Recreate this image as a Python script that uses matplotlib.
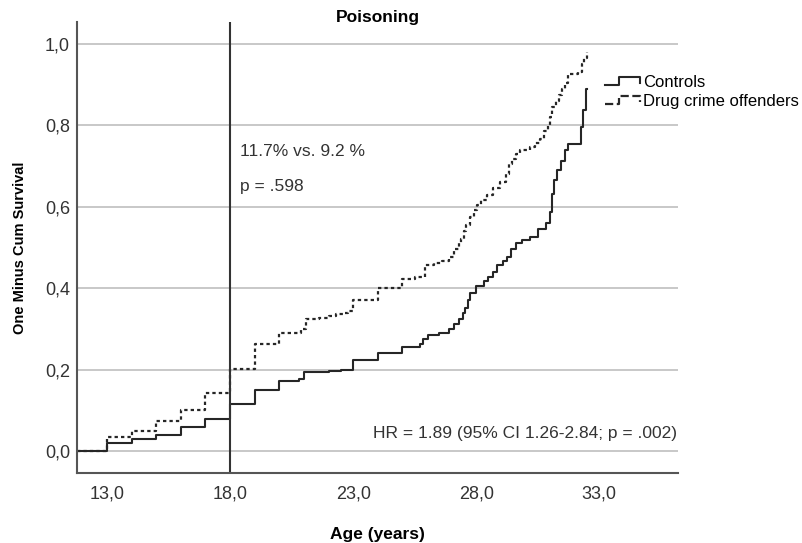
import matplotlib
matplotlib.use("Agg")
import matplotlib.pyplot as plt
from matplotlib.lines import Line2D
from matplotlib.legend_handler import HandlerBase

plt.rcParams['font.family'] = ['Liberation Sans', 'DejaVu Sans']

# Datos (edad, 1 - supervivencia acumulada)
edad_controles = [11.8, 13.0, 14.0, 15.0, 16.0, 17.0, 18.0, 19.0, 20.0, 20.8,
                  21.0, 22.0, 22.5, 23.0, 24.0, 25.0, 25.7, 25.85, 26.05, 26.5,
                  26.9, 27.1, 27.3, 27.45, 27.55, 27.65, 27.75, 28.0, 28.3, 28.5,
                  28.7, 28.85, 29.1, 29.25, 29.4, 29.6, 29.85, 30.2, 30.5, 30.85,
                  31.0, 31.08, 31.15, 31.3, 31.45, 31.6, 31.75, 32.25, 32.35, 32.45,
                  32.5]
iuv_controles = [0.0, 0.019, 0.029, 0.039, 0.058, 0.079, 0.115, 0.151, 0.172, 0.178,
                 0.193, 0.196, 0.200, 0.223, 0.241, 0.256, 0.262, 0.275, 0.285, 0.290,
                 0.300, 0.313, 0.325, 0.338, 0.352, 0.370, 0.387, 0.405, 0.418, 0.428,
                 0.440, 0.456, 0.468, 0.477, 0.497, 0.512, 0.518, 0.526, 0.546, 0.559,
                 0.587, 0.632, 0.665, 0.690, 0.712, 0.739, 0.755, 0.796, 0.837, 0.890,
                 0.890]

edad_drogas = [11.8, 13.0, 14.0, 15.0, 16.0, 17.0, 18.0, 19.0, 20.0, 20.9,
               21.1, 21.6, 22.0, 22.3, 22.6, 22.8, 23.0, 24.0, 25.0, 25.5,
               25.9, 26.3, 26.6, 26.9, 27.1, 27.3, 27.4, 27.5, 27.6, 27.75,
               27.9, 28.05, 28.2, 28.45, 28.7, 28.95, 29.2, 29.35, 29.45, 29.6,
               29.8, 30.2, 30.4, 30.6, 30.75, 30.9, 31.0, 31.1, 31.25, 31.35,
               31.5, 31.6, 31.75, 32.15, 32.3, 32.4, 32.5]
iuv_drogas = [0.0, 0.034, 0.049, 0.074, 0.102, 0.143, 0.201, 0.262, 0.291, 0.300,
              0.325, 0.328, 0.332, 0.336, 0.339, 0.344, 0.370, 0.400, 0.423, 0.428,
              0.456, 0.462, 0.466, 0.477, 0.497, 0.510, 0.522, 0.540, 0.555, 0.575,
              0.591, 0.605, 0.616, 0.630, 0.645, 0.660, 0.681, 0.705, 0.718, 0.730,
              0.739, 0.747, 0.757, 0.767, 0.785, 0.800, 0.820, 0.845, 0.860, 0.874,
              0.890, 0.905, 0.927, 0.930, 0.951, 0.965, 0.980]

etiquetas = ["Controls", "Drug crime offenders"]
xticks = [13.0, 18.0, 23.0, 28.0, 33.0]
yticks = [0.0, 0.2, 0.4, 0.6, 0.8, 1.0]

color_linea = '#262626'
estilo_puntos = (0, (1.5, 1.4))


class HandlerEscalon(HandlerBase):
    # dibuja el simbolo de la leyenda como un escalon, al estilo SPSS
    def create_artists(self, legend, orig_handle, xdescent, ydescent,
                       width, height, fontsize, trans):
        xs = [0, 0.4, 0.4, 1.0, 1.0]
        ys = [0.2, 0.2, 0.9, 0.9, 0.35]
        xs = [x * width - xdescent for x in xs]
        ys = [y * height - ydescent for y in ys]
        linea = Line2D(xs, ys, color=orig_handle.get_color(),
                       linestyle=orig_handle.get_linestyle(),
                       linewidth=orig_handle.get_linewidth())
        linea.set_transform(trans)
        return [linea]


fig = plt.figure(figsize=(8.03, 5.43), dpi=100)
ax = fig.add_axes([77 / 803, 70 / 543, 601 / 803, 451 / 543])

for y in yticks:
    ax.axhline(y, color='#c8c8c8', linewidth=1.4, zorder=0)

l1, = ax.step(edad_controles, iuv_controles, where='post', color=color_linea,
              linewidth=1.5, label=etiquetas[0])
l2, = ax.step(edad_drogas, iuv_drogas, where='post', color=color_linea,
              linewidth=1.6, linestyle=estilo_puntos, label=etiquetas[1])

ax.axvline(18.0, color='#333333', linewidth=1.5)

ax.set_xlim(11.78, 36.2)
ax.set_ylim(-0.054, 1.054)
ax.set_xticks(xticks)
ax.set_xticklabels([f"{v:.1f}".replace('.', ',') for v in xticks])
ax.set_yticks(yticks)
ax.set_yticklabels([f"{v:.1f}".replace('.', ',') for v in yticks])
ax.tick_params(axis='both', length=0, labelsize=13, labelcolor='#333333')
ax.tick_params(axis='x', pad=9)
ax.tick_params(axis='y', pad=5)

for lado in ['top', 'right']:
    ax.spines[lado].set_visible(False)
for lado in ['left', 'bottom']:
    ax.spines[lado].set_color('#555555')
    ax.spines[lado].set_linewidth(1.5)

# titulo un poco por debajo del borde superior, como en SPSS
ax.text(0.5, 1.011, "Poisoning", transform=ax.transAxes, fontsize=12.5,
        fontweight='bold', ha='center', va='center')
ax.set_xlabel("Age (years)", fontsize=12.5, fontweight='bold', labelpad=18)
ax.set_ylabel("One Minus Cum Survival", fontsize=10.5, fontweight='bold', labelpad=13)

ax.text(18.4, 0.736, "11.7% vs. 9.2 %", fontsize=12.5, color='#333333', va='center')
ax.text(18.4, 0.65, "p = .598", fontsize=12.5, color='#333333', va='center')
ax.text(0.998, (0.044 + 0.054) / 1.108, "HR = 1.89 (95% CI 1.26-2.84; p = .002)",
        transform=ax.transAxes, fontsize=12.5, color='#333333', ha='right', va='center')

fig.legend(handles=[l1, l2], labels=etiquetas, loc='upper left',
           bbox_to_anchor=(605 / 803, 1 - 75 / 543), frameon=False,
           fontsize=12, handlelength=2.1, handletextpad=0.2, labelspacing=0.25,
           borderpad=0, borderaxespad=0,
           handler_map={Line2D: HandlerEscalon()})

fig.savefig("out.png", dpi=100)
